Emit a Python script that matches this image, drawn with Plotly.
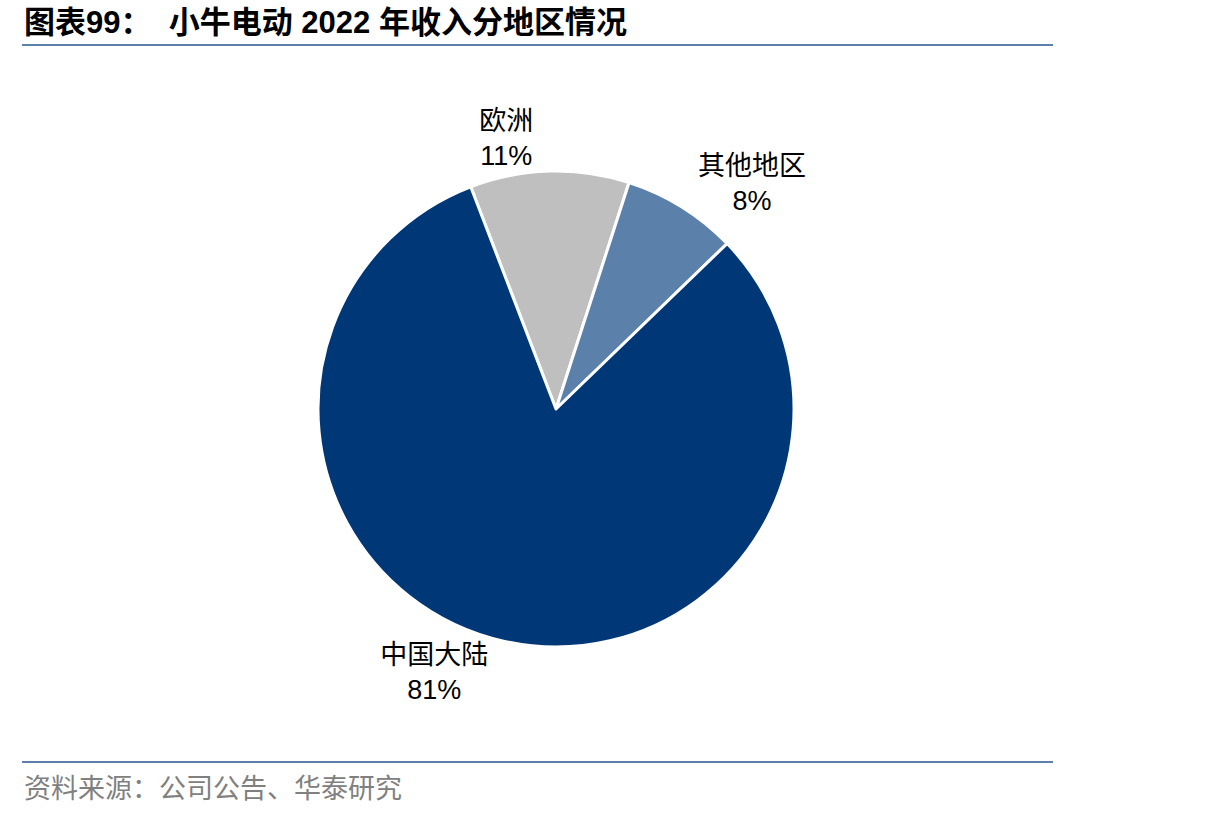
import plotly.graph_objects as go

labels = ["欧洲", "其他地区", "中国大陆"]
values = [10.8, 7.8, 81.4]
pct_text = ["11%", "8%", "81%"]
colors = ["#BFBFBF", "#5B80AA", "#003776"]

W, H = 1206, 816
cx, cy, r = 556, 409, 238

fig = go.Figure()
fig.add_trace(go.Pie(
    labels=labels,
    values=values,
    text=pct_text,
    texttemplate="%{label}<br>%{text}",
    textposition="outside",
    sort=False,
    direction="clockwise",
    rotation=-21,
    marker=dict(colors=colors, line=dict(color="white", width=3)),
    textfont=dict(family="Liberation Sans, Noto Sans CJK SC", size=27, color="black"),
    domain=dict(x=[(cx - r) / W, (cx + r) / W], y=[(H - cy - r) / H, (H - cy + r) / H]),
    showlegend=False,
    hoverinfo="label+percent",
))

fig.update_layout(
    width=W, height=H,
    margin=dict(l=0, r=0, t=0, b=0),
    paper_bgcolor="white",
    plot_bgcolor="white",
    annotations=[
        dict(text="<b>图表99：  小牛电动 2022 年收入分地区情况</b>", x=22 / W, y=1 - 22 / H,
             xref="paper", yref="paper", xanchor="left", yanchor="middle", showarrow=False,
             font=dict(family="Liberation Sans, Noto Sans CJK SC", size=31, color="black")),
        dict(text="资料来源：公司公告、华泰研究", x=22 / W, y=1 - 786 / H,
             xref="paper", yref="paper", xanchor="left", yanchor="middle", showarrow=False,
             font=dict(family="Noto Sans CJK SC", size=27, color="#808080")),
    ],
    shapes=[
        dict(type="line", xref="paper", yref="paper", x0=22 / W, x1=1053 / W,
             y0=1 - 45 / H, y1=1 - 45 / H, line=dict(color="#5B80AA", width=2)),
        dict(type="line", xref="paper", yref="paper", x0=22 / W, x1=1053 / W,
             y0=1 - 762 / H, y1=1 - 762 / H, line=dict(color="#5B80AA", width=2)),
    ],
)

fig.write_html("out.html")
